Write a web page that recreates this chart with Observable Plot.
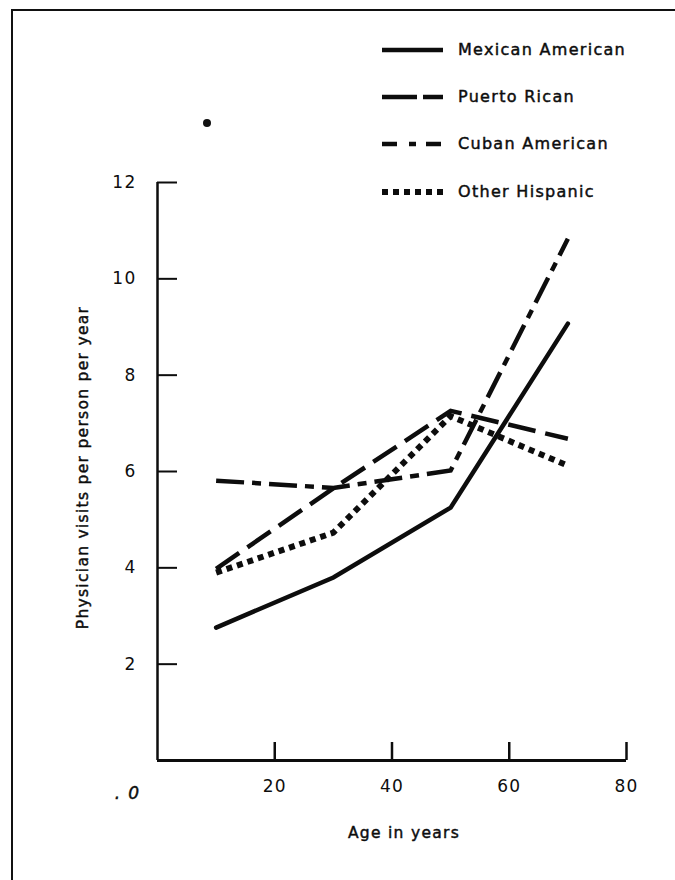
<!DOCTYPE html>
<html>
<head>
<meta charset="utf-8">
<script src="https://cdn.jsdelivr.net/npm/d3@7"></script>
<script src="https://cdn.jsdelivr.net/npm/@observablehq/plot@0.6"></script>
<style>
  html, body { margin: 0; padding: 0; background: #fff; }
  #wrap { position: relative; width: 675px; height: 880px; overflow: hidden; background: #fff;
          font-family: "DejaVu Sans", sans-serif; color: #0d0d0d; }
  #frame { position: absolute; left: 11px; top: 9px; width: 700px; height: 900px;
           border-left: 2px solid #111; border-top: 2px solid #111; }
  #chart { position: absolute; left: 0; top: 0; }
  #legend { position: absolute; left: 382px; top: 26px; }
  .row { display: flex; align-items: center; height: 47.3px; }
  .row svg { display: block; }
  .row span { margin-left: 15px; font-size: 16px; letter-spacing: 1.3px; line-height: 1;
              -webkit-text-stroke: 0.45px #0d0d0d; }
  #speck { position: absolute; left: 203px; top: 119px; width: 8px; height: 8px; border-radius: 50%; background: #111; }
</style>
</head>
<body>
<div id="wrap">
  <div id="frame"></div>
  <div id="chart"></div>
  <div id="legend"></div>
  <div id="speck"></div>
</div>
<script>
// ---- data ----
const ages = [10, 30, 50, 70];
const mexicanAmerican = [2.76, 3.8, 5.25, 9.07];
const puertoRican = [3.98, 5.65, 7.26, 6.68];
const cubanAmerican = [5.81, 5.66, 6.02, 10.83];
const otherHispanic = [3.9, 4.73, 7.15, 6.12];
const seriesNames = ["Mexican American", "Puerto Rican", "Cuban American", "Other Hispanic"];
const xTicks = [20, 40, 60, 80];
const yTicks = [2, 4, 6, 8, 10, 12];
const originLabel = ". 0";
const xLabel = "Age in years";
const yLabel = "Physician visits per person per year";

// ---- styles (kept apart from the data) ----
const lineStyles = [
  {strokeWidth: 4.5, strokeDasharray: null, strokeLinecap: "round"},
  {strokeWidth: 4.5, strokeDasharray: "28,10", strokeLinecap: "butt"},
  {strokeWidth: 4.5, strokeDasharray: "28,8,9,8", strokeLinecap: "butt"},
  {strokeWidth: 6, strokeDasharray: "6,5", strokeLinecap: "butt"}
];
const seriesValues = [mexicanAmerican, puertoRican, cubanAmerican, otherHispanic];

const rows = [];
seriesNames.forEach((name, s) => {
  ages.forEach((a, i) => rows.push({series: name, age: a, visits: seriesValues[s][i]}));
});

const ink = "#0d0d0d";
const textInk = {fill: ink, stroke: ink, strokeWidth: 0.45};
const lineMarks = seriesNames.map((name, s) =>
  Plot.line(rows.filter(d => d.series === name), {
    x: "age", y: "visits", stroke: ink,
    strokeWidth: lineStyles[s].strokeWidth,
    strokeDasharray: lineStyles[s].strokeDasharray,
    strokeLinecap: lineStyles[s].strokeLinecap,
    strokeLinejoin: "miter", strokeMiterlimit: 4
  })
);

const chart = Plot.plot({
  width: 675,
  height: 880,
  marginTop: 182,
  marginBottom: 120,
  marginLeft: 157,
  marginRight: 49,
  style: {fontFamily: "DejaVu Sans", fontSize: "16px", letterSpacing: "1.3px", color: ink, background: "transparent", overflow: "visible"},
  x: {domain: [0, 80]},
  y: {domain: [0, 12]},
  marks: [
    // y axis: inward ticks + labels
    Plot.axisY(yTicks, {tickSize: 20, dx: 20, tickFormat: () => "", label: null, strokeWidth: 2, stroke: ink}),
    Plot.axisY(yTicks, {tickSize: 0, tickPadding: 21, label: null, fontSize: 17, letterSpacing: "2px", ...textInk}),
    // x axis: inward ticks + labels
    Plot.axisX(xTicks, {tickSize: 18, dy: -18, tickFormat: () => "", label: null, strokeWidth: 2.5, stroke: ink}),
    Plot.axisX(xTicks, {tickSize: 0, tickPadding: 19, label: null, fontSize: 17, letterSpacing: "1.5px", ...textInk}),
    Plot.ruleX([0], {stroke: ink, strokeWidth: 2.5}),
    Plot.ruleY([0], {stroke: ink, strokeWidth: 3}),
    Plot.text([originLabel], {x: () => 0, y: () => 0, text: d => d, dx: -30, dy: 33, fontStyle: "italic", fontSize: 17, ...textInk}),
    Plot.text([xLabel], {frameAnchor: "bottom", text: d => d, dx: 12, dy: 77, fontSize: 15.5, ...textInk}),
    Plot.text([yLabel], {frameAnchor: "left", textAnchor: "middle", text: d => d, rotate: -90, dx: -74, dy: -4, fontSize: 15.5, ...textInk}),
    ...lineMarks
  ]
});
document.getElementById("chart").appendChild(chart);

// ---- legend (built from the series names and styles) ----
const legend = d3.select("#legend");
seriesNames.forEach((name, s) => {
  const row = legend.append("div").attr("class", "row");
  const svg = row.append("svg").attr("width", 61).attr("height", 10);
  svg.append("line")
    .attr("x1", 0).attr("x2", 61).attr("y1", 5).attr("y2", 5)
    .attr("stroke", ink)
    .attr("stroke-width", lineStyles[s].strokeWidth)
    .attr("stroke-dasharray", s === 1 ? "35,6" : s === 2 ? "15,12,7,10" : lineStyles[s].strokeDasharray)
    .attr("stroke-linecap", "butt");
  row.append("span").text(name);
});
</script>
</body>
</html>
